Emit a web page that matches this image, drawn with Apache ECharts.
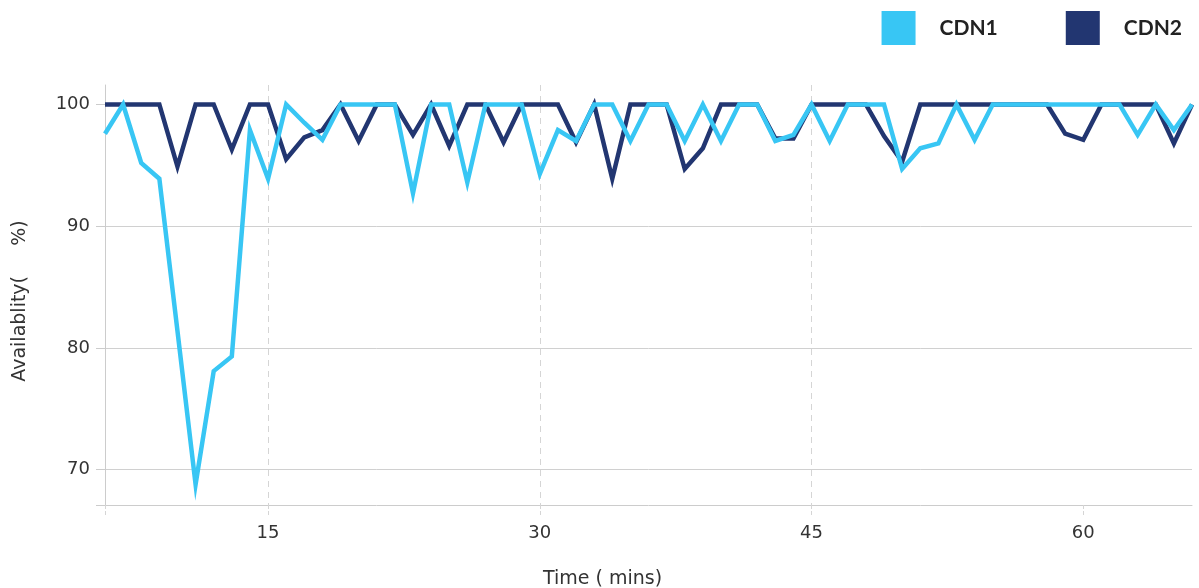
<!DOCTYPE html>
<html>
<head>
<meta charset="utf-8">
<script src="https://cdn.jsdelivr.net/npm/echarts@6/dist/echarts.min.js"></script>
<style>
html,body{margin:0;padding:0;background:#fff;}
#chart{width:1199px;height:588px;}
</style>
</head>
<body>
<div id="chart"></div>
<script>
const minutes = [6,7,8,9,10,11,12,13,14,15,16,17,18,19,20,21,22,23,24,25,26,27,28,29,30,31,32,33,34,35,36,37,38,39,40,41,42,43,44,45,46,47,48,49,50,51,52,53,54,55,56,57,58,59,60,61,62,63,64,65,66];
const cdn1 = [97.6,100,95.2,93.9,81.4,68.8,78.1,79.3,97.9,93.9,100,98.5,97.1,100,100,100,100,92.7,100,100,93.6,100,100,100,94.3,97.9,97.0,100,100,97.0,100,100,97.0,100,97.0,100,100,97.0,97.5,100,97.0,100,100,100,94.7,96.4,96.8,100,97.1,100,100,100,100,100,100,100,100,97.5,100,97.9,100];
const cdn2 = [100,100,100,100,94.9,100,100,96.3,100,100,95.5,97.3,97.9,100,97.0,100,100,97.5,100,96.6,100,100,96.9,100,100,100,96.9,100,93.9,100,100,100,94.7,96.4,100,100,100,97.2,97.2,100,100,100,100,97.4,95.3,100,100,100,100,100,100,100,100,97.6,97.1,100,100,100,100,96.8,100];
const seriesNames = ['CDN1','CDN2'];
const yMin = 67.1, yMax = 101.6;
const xMin = 6, xMax = 66;
const yTickValues = [70,80,90,100];
const xTickValues = [15,30,45,60];

const pairs = (vals) => minutes.map((m, i) => [m, vals[i]]);

const chart = echarts.init(document.getElementById('chart'), null, {renderer:'canvas'});
chart.setOption({
  animation:false,
  backgroundColor:'#ffffff',
  textStyle:{fontFamily:'DejaVu Sans'},
  legend:{
    data:seriesNames,
    right:12, top:6,
    itemWidth:34, itemHeight:34, itemGap:68,
    icon:'rect',
    textStyle:{fontFamily:'Lato', fontWeight:'bold', fontSize:21, color:'#222', padding:[0,0,0,19]}
  },
  grid:{left:105, right:7, top:85, bottom:83, containLabel:false, outerBoundsMode:'none'},
  xAxis:{
    type:'value', min:xMin, max:xMax,
    name:'Time ( mins)', nameLocation:'middle', nameGap:65,
    nameTextStyle:{fontSize:19, color:'#333', fontFamily:'DejaVu Sans', padding:[0,92,0,0]},
    axisLine:{show:true, lineStyle:{color:'#cccccc', width:1}},
    axisTick:{show:true, length:10, customValues:[xMin].concat(xTickValues), lineStyle:{color:'#d5d5d5', type:'dashed'}},
    axisLabel:{fontSize:18, color:'#333', margin:19, fontFamily:'DejaVu Sans', customValues:xTickValues},
    splitLine:{show:true, showMinLine:false, showMaxLine:false, lineStyle:{color:'#d5d5d5', type:[6,5], width:1}}
  },
  yAxis:{
    type:'value', min:yMin, max:yMax,
    name:'Availablity(     %)', nameLocation:'middle', nameGap:75, nameRotate:90,
    nameTextStyle:{fontSize:19, color:'#333', fontFamily:'DejaVu Sans', padding:[0,12,0,0]},
    axisLine:{show:true, lineStyle:{color:'#cccccc', width:1}},
    axisTick:{show:true, length:9, customValues:[yMin].concat(yTickValues), lineStyle:{color:'#cccccc'}},
    axisLabel:{fontSize:18, color:'#333', margin:15, fontFamily:'DejaVu Sans', customValues:yTickValues},
    splitLine:{show:true, showMinLine:false, showMaxLine:false, lineStyle:{color:'#d0d0d0', width:1}}
  },
  series:[
    {name:'CDN2', type:'line', data:pairs(cdn2), showSymbol:false, symbol:'none', z:2,
      lineStyle:{color:'#223671', width:4.5, join:'miter'}, itemStyle:{color:'#223671'}},
    {name:'CDN1', type:'line', data:pairs(cdn1), showSymbol:false, symbol:'none', z:3,
      lineStyle:{color:'#38c6f4', width:4.5, join:'miter'}, itemStyle:{color:'#38c6f4'}}
  ]
});
</script>
</body>
</html>
